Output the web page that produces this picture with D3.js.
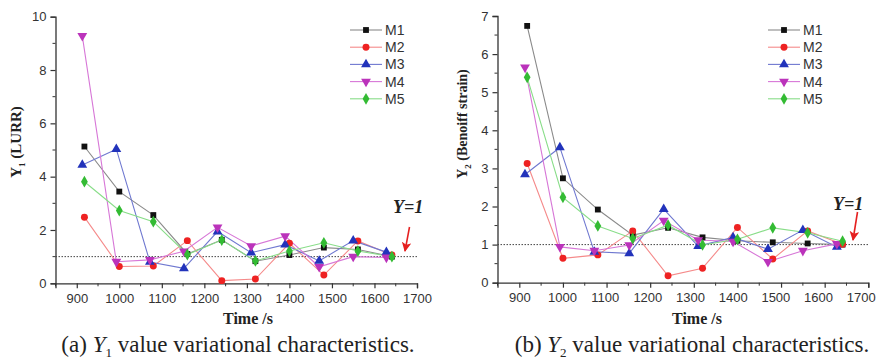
<!DOCTYPE html>
<html>
<head>
<meta charset="utf-8">
<script src="https://cdn.jsdelivr.net/npm/d3@7"></script>
<style>
  body { margin: 0; background: #fff; }
  svg { display: block; }
</style>
</head>
<body>
<svg id="chart" width="881" height="359"></svg>
<script>
// ---- data ----
const seriesNames = ["M1", "M2", "M3", "M4", "M5"];
const timesA = [918, 1000, 1080, 1160, 1241, 1320, 1400, 1481, 1561, 1641]; // M1, M2, M5
const timesB = [913, 993, 1072, 1152, 1231, 1310, 1390, 1470, 1550, 1628];  // M3, M4
const seriesTimes = [timesA, timesA, timesB, timesB, timesA];

const y1M1 = [5.13, 3.44, 2.56, 1.10, 1.63, 0.83, 1.06, 1.34, 1.27, 1.00];
const y1M2 = [2.48, 0.63, 0.65, 1.60, 0.10, 0.16, 1.50, 0.31, 1.59, 1.06];
const y1M3 = [4.44, 5.03, 0.80, 0.56, 1.94, 1.15, 1.45, 0.84, 1.60, 1.17];
const y1M4 = [9.28, 0.81, 0.88, 1.20, 2.10, 1.40, 1.77, 0.62, 1.00, 0.97];
const y1M5 = [3.81, 2.73, 2.31, 1.08, 1.62, 0.84, 1.21, 1.52, 1.21, 1.00];

const y2M1 = [6.74, 2.74, 1.92, 1.25, 1.44, 1.19, 1.10, 1.06, 1.03, 1.00];
const y2M2 = [3.13, 0.64, 0.73, 1.36, 0.18, 0.38, 1.45, 0.62, 1.36, 1.01];
const y2M3 = [2.84, 3.55, 0.81, 0.77, 1.93, 0.96, 1.19, 0.88, 1.38, 0.94];
const y2M4 = [5.65, 0.94, 0.84, 0.99, 1.63, 1.12, 1.08, 0.55, 0.84, 1.02];
const y2M5 = [5.39, 2.24, 1.49, 1.16, 1.51, 0.99, 1.14, 1.44, 1.31, 1.09];

const xTicks = [900, 1000, 1100, 1200, 1300, 1400, 1500, 1600, 1700];
const y1Ticks = [0, 2, 4, 6, 8, 10];
const y2Ticks = [0, 1, 2, 3, 4, 5, 6, 7];
const refValue = 1;

// ---- styles ----
const markerColors = ["#111111", "#ee2222", "#2233bb", "#bb33bb", "#33bb33"];
const lineColors = ["#8a8a8a", "#f58a8a", "#6f78d0", "#d777d7", "#88dd88"];
const symbols = [d3.symbolSquare, d3.symbolCircle, d3.symbolTriangle, d3.symbolTriangle, d3.symbolDiamond];
const symSizes = [34, 38, 42, 42, 40];
const symRotate = [0, 0, 0, 180, 0];

const svg = d3.select("#chart");

function panel(cfg) {
  const x = d3.scaleLinear().domain([850, 1700]).range([cfg.x0, cfg.x1]);
  const y = d3.scaleLinear().domain([0, cfg.ymax]).range([cfg.yb, cfg.yt]);
  const g = svg.append("g");

  // minor ticks
  const xMinor = d3.range(850, 1701, 50).filter(v => v % 100 !== 0);
  g.selectAll(".xm").data(xMinor).join("line")
    .attr("x1", d => x(d)).attr("x2", d => x(d))
    .attr("y1", cfg.yb).attr("y2", cfg.yb + 3)
    .attr("stroke", "#333").attr("stroke-width", 1);
  g.selectAll(".ym").data(cfg.yMinor).join("line")
    .attr("x1", cfg.x0 - 3).attr("x2", cfg.x0)
    .attr("y1", d => y(d)).attr("y2", d => y(d))
    .attr("stroke", "#333").attr("stroke-width", 1);

  // axes
  const xAxis = d3.axisBottom(x).tickValues(xTicks).tickSize(5).tickPadding(5).tickFormat(d3.format("d"));
  const yAxis = d3.axisLeft(y).tickValues(cfg.yTicks).tickSize(5).tickPadding(4).tickFormat(d3.format("d"));
  const gx = g.append("g").attr("transform", `translate(0,${cfg.yb})`).call(xAxis);
  const gy = g.append("g").attr("transform", `translate(${cfg.x0},0)`).call(yAxis);
  gx.selectAll(".tick text").attr("dx", d => -(d - 900) * cfg.labelShift);
  [gx, gy].forEach(a => {
    a.select(".domain").attr("stroke", "#333").attr("stroke-width", 1.3);
    a.selectAll(".tick line").attr("stroke", "#333").attr("stroke-width", 1.2);
    a.selectAll(".tick text").attr("fill", "#333")
      .style("font-family", "'Liberation Sans', Arial, sans-serif").style("font-size", "13px");
  });

  // reference line y=1
  g.append("line")
    .attr("x1", x(850)).attr("x2", x(1700))
    .attr("y1", y(refValue)).attr("y2", y(refValue))
    .attr("stroke", "#444").attr("stroke-width", 1).attr("stroke-dasharray", "1.5,1.5");

  // series
  cfg.data.forEach((vals, i) => {
    const pts = vals.map((v, k) => [seriesTimes[i][k], v]);
    g.append("path").datum(pts)
      .attr("fill", "none").attr("stroke", lineColors[i]).attr("stroke-width", 1.1)
      .attr("d", d3.line().x(d => x(d[0])).y(d => y(d[1])));
  });
  cfg.data.forEach((vals, i) => {
    const pts = vals.map((v, k) => [seriesTimes[i][k], v]);
    g.selectAll(null).data(pts).join("path")
      .attr("d", d3.symbol().type(symbols[i]).size(symSizes[i]))
      .attr("transform", d => `translate(${x(d[0])},${y(d[1])}) rotate(${symRotate[i]})`)
      .attr("fill", markerColors[i]);
  });

  // legend
  seriesNames.forEach((name, i) => {
    const ly = cfg.legY + i * 17.2;
    g.append("line").attr("x1", cfg.legX).attr("x2", cfg.legX + 32)
      .attr("y1", ly).attr("y2", ly).attr("stroke", lineColors[i]).attr("stroke-width", 1.1);
    g.append("path").attr("d", d3.symbol().type(symbols[i]).size(symSizes[i]))
      .attr("transform", `translate(${cfg.legX + 16},${ly}) rotate(${symRotate[i]})`)
      .attr("fill", markerColors[i]);
    g.append("text").attr("x", cfg.legX + 35).attr("y", ly + 5)
      .attr("fill", "#333")
      .style("font-family", "'Liberation Sans', Arial, sans-serif").style("font-size", "14px")
      .text(name);
  });

  // Y=1 annotation
  g.append("text").attr("x", cfg.annX).attr("y", cfg.annY)
    .style("font-family", "'Liberation Serif', 'Times New Roman', serif")
    .style("font-size", "18px").style("font-weight", "bold").style("font-style", "italic")
    .attr("fill", "#222").text("Y=1");
  const a0 = cfg.arrow[0], a1 = cfg.arrow[1];
  g.append("line").attr("x1", a0[0]).attr("y1", a0[1]).attr("x2", a1[0]).attr("y2", a1[1])
    .attr("stroke", "#e52020").attr("stroke-width", 1.6).attr("marker-end", "url(#arrowhead)");

  // axis titles
  g.append("text").attr("x", cfg.timeX).attr("y", 324)
    .attr("text-anchor", "middle")
    .style("font-family", "'Liberation Serif', 'Times New Roman', serif")
    .style("font-size", "16px").style("font-weight", "bold").attr("fill", "#222")
    .text("Time /s");

  const yl = g.append("text")
    .attr("transform", `translate(${cfg.ylabX},${cfg.ylabY}) rotate(-90)`)
    .attr("text-anchor", "middle")
    .style("font-family", "'Liberation Serif', 'Times New Roman', serif")
    .style("font-size", cfg.ylabSize + "px").style("font-weight", "bold").attr("fill", "#222");
  yl.append("tspan").text("Y");
  yl.append("tspan").attr("dy", 4).style("font-size", "9px").text(cfg.sub);
  yl.append("tspan").attr("dy", -4).text(" " + cfg.ylabRest);

  // caption
  const cap = g.append("text").attr("x", cfg.capX).attr("y", 352)
    .attr("text-anchor", "middle")
    .style("font-family", "'Liberation Serif', 'Times New Roman', serif")
    .style("font-size", "23px").attr("fill", "#222");
  cap.append("tspan").text(cfg.capPre + " ");
  cap.append("tspan").style("font-style", "italic").text("Y");
  cap.append("tspan").attr("dy", 5).style("font-size", "13px").text(cfg.sub);
  cap.append("tspan").attr("dy", -5).text(" value variational characteristics.");
}

const defs = svg.append("defs");
defs.append("marker").attr("id", "arrowhead").attr("viewBox", "0 0 10 10")
  .attr("refX", 9).attr("refY", 5).attr("markerWidth", 6).attr("markerHeight", 6)
  .attr("orient", "auto")
  .append("path").attr("d", "M0,0 L10,5 L0,10 L2.5,5 Z").attr("fill", "#e52020");

panel({
  x0: 55.5, x1: 417, yb: 283.3, yt: 16.7, ymax: 10,
  yTicks: y1Ticks, yMinor: [1, 3, 5, 7, 9], labelShift: 0,
  data: [y1M1, y1M2, y1M3, y1M4, y1M5],
  legX: 350, legY: 30,
  annX: 393, annY: 213, arrow: [[409.5, 227], [405, 251]],
  timeX: 248,
  ylabX: 21, ylabY: 142, ylabSize: 15, sub: "1", ylabRest: "(LURR)",
  capX: 238, capPre: "(a)"
});

panel({
  x0: 497.5, x1: 868.3, yb: 282.7, yt: 16, ymax: 7,
  yTicks: y2Ticks, yMinor: [0.5, 1.5, 2.5, 3.5, 4.5, 5.5, 6.5], labelShift: 0.0095,
  data: [y2M1, y2M2, y2M3, y2M4, y2M5],
  legX: 768, legY: 30,
  annX: 833, annY: 210, arrow: [[857.5, 212], [853, 240]],
  timeX: 697,
  ylabX: 467, ylabY: 124, ylabSize: 14, sub: "2", ylabRest: "(Benoiff strain)",
  capX: 692, capPre: "(b)"
});
</script>
</body>
</html>
